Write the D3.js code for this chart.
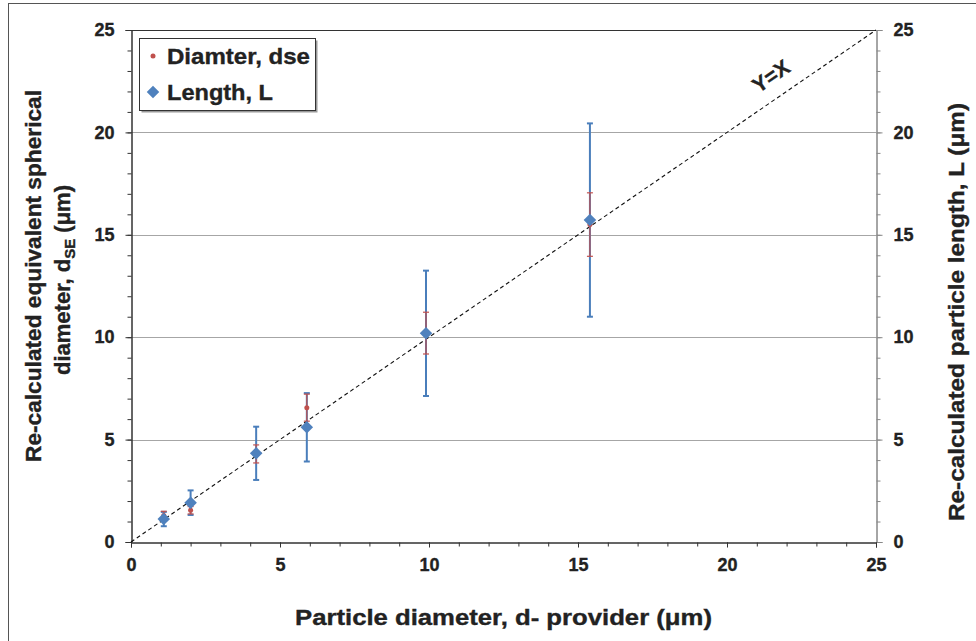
<!DOCTYPE html>
<html>
<head>
    <script src="https://d3js.org/d3.v7.min.js"></script>
    <style>
        body {
            margin: 0;
            background-color: white;
        }

        svg text {
            font-family: "Liberation Sans", Arial, sans-serif;
            font-weight: bold;
            fill: #222;
            stroke: #222;
            stroke-width: 0.35px;
        }

        .axis path {
            stroke: #333;
        }

        .axis line {
            stroke: #333;
        }

        .right path, .right line {
            stroke: #888;
        }

        .grid {
            stroke: #a6a6a6;
            stroke-width: 1;
        }
    </style>
</head>
<body>
    <div id="chart"></div>
    <script>
        // particle diameter from the provider (x)
        const sizes = [1.1, 2.0, 4.2, 5.9, 9.9, 15.4]
        // re-calculated equivalent spherical diameter and its error
        const dse = [1.3, 1.55, 4.3, 6.56, 10.2, 15.5]
        const dseErr = [0.2, 0.18, 0.44, 0.66, 1.02, 1.55]
        // re-calculated particle length and its error
        const len = [1.12, 1.92, 4.33, 5.6, 10.19, 15.72]
        const lenErr = [0.35, 0.6, 1.3, 1.67, 3.06, 4.72]
        const majorTicks = [0, 5, 10, 15, 20, 25]
        const gridTicks = [5, 10, 15, 20]
        const seriesNames = ['Diamter, dse', 'Length, L']

        const w = 976, h = 641
        const pLeft = 131, pRight = 876, pTop = 30, pBottom = 542
        const blue = '#4a7ebb', red = '#c0504d'

        const svg = d3.select('#chart').append('svg')
            .attr('width', w)
            .attr('height', h)

        // outer frame
        svg.append('rect')
            .attr('x', 8.5).attr('y', 3.5)
            .attr('width', 1000).attr('height', 700)
            .attr('fill', 'none')
            .attr('stroke', '#555')

        const x = d3.scaleLinear().domain([0, 25]).range([pLeft, pRight])
        const y = d3.scaleLinear().domain([0, 25]).range([pBottom, pTop])

        const rows = sizes.map((s, i) => ({
            x: s, dse: dse[i], dseErr: dseErr[i], len: len[i], lenErr: lenErr[i]
        }))

        // grid lines
        svg.append('g').selectAll('line')
            .data(gridTicks)
            .enter().append('line')
            .attr('class', 'grid')
            .attr('x1', x(0)).attr('x2', x(25))
            .attr('y1', d => Math.round(y(d)) + 0.5)
            .attr('y2', d => Math.round(y(d)) + 0.5)

        // top border of plot
        svg.append('line')
            .attr('x1', x(0)).attr('x2', x(25))
            .attr('y1', y(25) + 0.5).attr('y2', y(25) + 0.5)
            .attr('stroke', '#333')

        const minor = d3.range(0, 26)
        const tickFont = g => g.selectAll('text').style('font-size', '18px')

        // right axis (length)
        svg.append('g')
            .attr('class', 'axis right')
            .attr('transform', `translate(${pRight + 0.5},0)`)
            .call(d3.axisRight(y).tickValues(minor).tickSize(4).tickFormat(''))
        svg.append('g')
            .attr('class', 'axis right')
            .attr('transform', `translate(${pRight + 0.5},0)`)
            .call(d3.axisRight(y).tickValues(majorTicks).tickSize(6).tickPadding(11))
            .call(tickFont)

        // left axis (dse)
        svg.append('g')
            .attr('class', 'axis')
            .attr('transform', `translate(${pLeft + 0.5},0)`)
            .call(d3.axisLeft(y).tickValues(minor).tickSize(4).tickFormat(''))
        svg.append('g')
            .attr('class', 'axis')
            .attr('transform', `translate(${pLeft + 0.5},0)`)
            .call(d3.axisLeft(y).tickValues(majorTicks).tickSize(6).tickPadding(11))
            .call(tickFont)

        // bottom axis
        svg.append('g')
            .attr('class', 'axis')
            .attr('transform', `translate(0,${pBottom + 0.5})`)
            .call(d3.axisBottom(x).tickValues(minor).tickSize(4).tickFormat(''))
        svg.append('g')
            .attr('class', 'axis')
            .attr('transform', `translate(0,${pBottom + 0.5})`)
            .call(d3.axisBottom(x).tickValues(majorTicks).tickSize(5).tickPadding(11))
            .call(tickFont)

        // y = x reference line
        svg.append('line')
            .attr('x1', x(0)).attr('y1', y(0))
            .attr('x2', x(25)).attr('y2', y(25))
            .attr('stroke', '#111')
            .attr('stroke-width', 1.1)
            .attr('stroke-dasharray', '4,3')

        const angle = Math.atan2(y(0) - y(25), x(25) - x(0)) * 180 / Math.PI
        svg.append('text')
            .attr('transform', `translate(775,82) rotate(${-angle})`)
            .attr('text-anchor', 'middle')
            .style('font-size', '21px')
            .text('Y=X')

        const cap = 3

        function errorBars(key, err, color, sw) {
            const g = svg.append('g')
                .attr('stroke', color)
                .attr('stroke-width', sw)
            g.selectAll('.bar')
                .data(rows).enter().append('line')
                .attr('x1', d => x(d.x)).attr('x2', d => x(d.x))
                .attr('y1', d => y(d[key] - d[err]))
                .attr('y2', d => y(d[key] + d[err]))
            g.selectAll('.top')
                .data(rows).enter().append('line')
                .attr('x1', d => x(d.x) - cap).attr('x2', d => x(d.x) + cap)
                .attr('y1', d => y(d[key] + d[err]))
                .attr('y2', d => y(d[key] + d[err]))
            g.selectAll('.bot')
                .data(rows).enter().append('line')
                .attr('x1', d => x(d.x) - cap).attr('x2', d => x(d.x) + cap)
                .attr('y1', d => y(d[key] - d[err]))
                .attr('y2', d => y(d[key] - d[err]))
        }

        errorBars('len', 'lenErr', blue, 2)
        errorBars('dse', 'dseErr', red, 1.2)

        // dse markers
        svg.append('g').selectAll('circle')
            .data(rows).enter().append('circle')
            .attr('cx', d => x(d.x))
            .attr('cy', d => y(d.dse))
            .attr('r', 2.5)
            .attr('fill', red)

        // length markers
        const diamond = d3.symbol().type(d3.symbolDiamond2).size(100)
        svg.append('g').selectAll('path')
            .data(rows).enter().append('path')
            .attr('d', diamond)
            .attr('transform', d => `translate(${x(d.x)},${y(d.len)})`)
            .attr('fill', '#4f81bd')

        // legend
        const legend = svg.append('g')
        legend.append('rect')
            .attr('x', 141.5).attr('y', 40.5)
            .attr('width', 176).attr('height', 72)
            .attr('fill', '#999')
        legend.append('rect')
            .attr('x', 139.5).attr('y', 38.5)
            .attr('width', 176).attr('height', 72)
            .attr('fill', 'white')
            .attr('stroke', '#333')
        legend.append('circle')
            .attr('cx', 153).attr('cy', 56).attr('r', 2.5)
            .attr('fill', red)
        legend.append('path')
            .attr('d', diamond)
            .attr('transform', 'translate(153,92)')
            .attr('fill', '#4f81bd')
        const legendLen = [143, 106]
        legend.selectAll('text')
            .data(seriesNames).enter().append('text')
            .attr('x', 167)
            .attr('y', (d, i) => 64 + i * 36)
            .attr('textLength', (d, i) => legendLen[i])
            .attr('lengthAdjust', 'spacingAndGlyphs')
            .style('font-size', '22px')
            .text(d => d)

        // axis titles
        svg.append('text')
            .attr('x', 503.5)
            .attr('y', 625)
            .attr('text-anchor', 'middle')
            .attr('textLength', 417)
            .attr('lengthAdjust', 'spacingAndGlyphs')
            .style('font-size', '22px')
            .text('Particle diameter, d- provider (\u03bcm)')

        svg.append('text')
            .attr('transform', 'translate(41,276) rotate(-90)')
            .attr('text-anchor', 'middle')
            .attr('textLength', 372)
            .attr('lengthAdjust', 'spacingAndGlyphs')
            .style('font-size', '22px')
            .text('Re-calculated equivalent spherical')

        const l2 = svg.append('text')
            .attr('transform', 'translate(70,280) rotate(-90)')
            .attr('text-anchor', 'middle')
            .style('font-size', '22px')
        l2.append('tspan').text('diameter, d')
        l2.append('tspan').attr('dy', 5).style('font-size', '15px').text('SE')
        l2.append('tspan').attr('dy', -5).text(' (\u03bcm)')

        svg.append('text')
            .attr('transform', 'translate(964,312) rotate(-90)')
            .attr('text-anchor', 'middle')
            .attr('textLength', 418)
            .attr('lengthAdjust', 'spacingAndGlyphs')
            .style('font-size', '22px')
            .text('Re-calculated particle length, L (\u03bcm)')
    </script>
</body>
</html>
